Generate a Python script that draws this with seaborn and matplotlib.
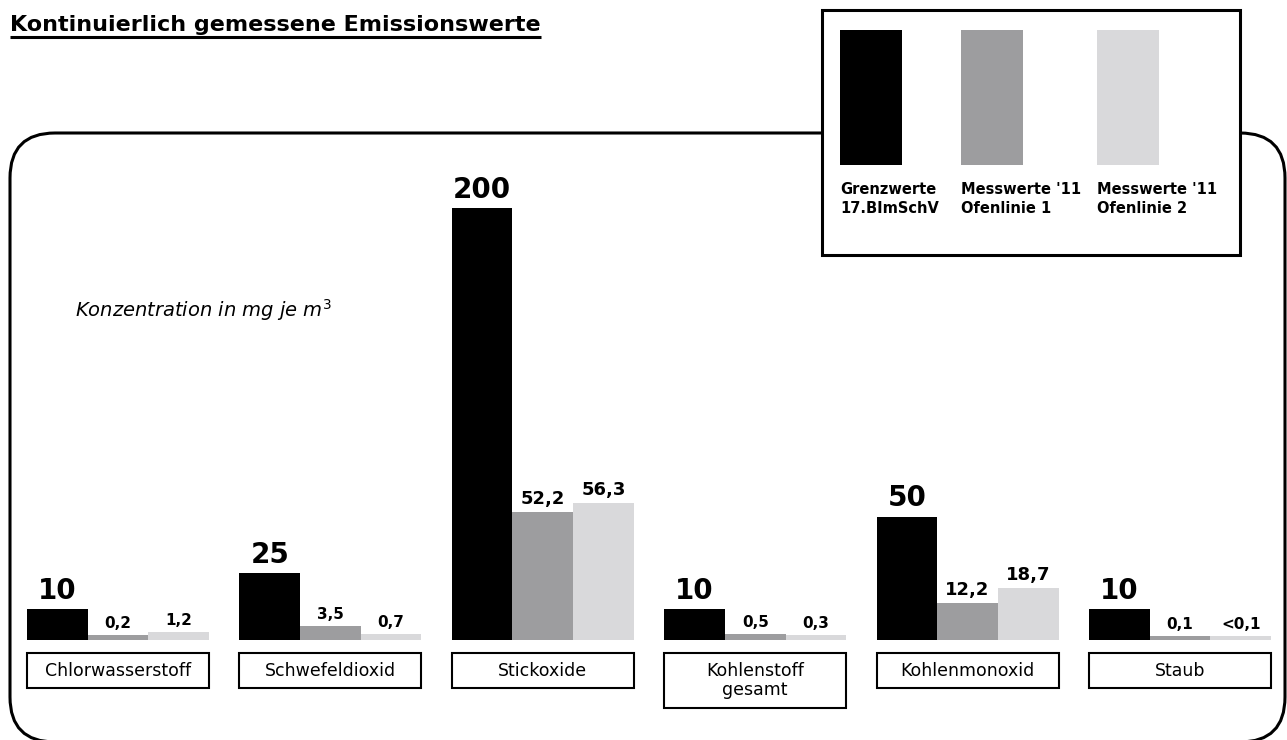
import numpy as np
import pandas as pd
import matplotlib
matplotlib.use("Agg")
import matplotlib.pyplot as plt
import seaborn as sns
from matplotlib.patches import Rectangle, FancyBboxPatch
from matplotlib.transforms import blended_transform_factory

# Data
categories = ["Chlorwasserstoff", "Schwefeldioxid", "Stickoxide",
              "Kohlenstoff\ngesamt", "Kohlenmonoxid", "Staub"]
series = ["Grenzwerte\n17.BImSchV", "Messwerte '11\nOfenlinie 1", "Messwerte '11\nOfenlinie 2"]
grenzwerte = [10, 25, 200, 10, 50, 10]
ofenlinie_1 = [0.2, 3.5, 52.2, 0.5, 12.2, 0.1]
ofenlinie_2 = [1.2, 0.7, 56.3, 0.3, 18.7, 0.1]
labels_grenz = ["10", "25", "200", "10", "50", "10"]
labels_1 = ["0,2", "3,5", "52,2", "0,5", "12,2", "0,1"]
labels_2 = ["1,2", "0,7", "56,3", "0,3", "18,7", "<0,1"]
colors = ["#000000", "#9d9d9f", "#d9d9db"]

df = pd.DataFrame({
    "Kategorie": categories * 3,
    "Serie": np.repeat(series, len(categories)),
    "Wert": grenzwerte + ofenlinie_1 + ofenlinie_2,
})

sns.set_style("white")
plt.rcParams["font.family"] = ["DejaVu Sans"]
plt.rcParams["mathtext.fontset"] = "dejavusans"
plt.rcParams["text.color"] = "black"

# compressed bar scale (small values still visible)
grid = np.linspace(0, 400, 40001)


def forward(v):
    v = np.clip(np.asarray(v, dtype=float), 0, None)
    return v ** 0.92 + 1.2 * np.tanh(v / 0.05)


def inverse(y):
    return np.interp(y, forward(grid), grid)


W, H = 1287, 740
fig = plt.figure(figsize=(W / 100, H / 100), dpi=100)

# overlay in pixel coordinates (y measured from the top)
oax = fig.add_axes([0, 0, 1, 1])
oax.set_xlim(0, W)
oax.set_ylim(0, H)
oax.axis("off")


def py(y):
    return H - y


frame = FancyBboxPatch((10, py(742)), 1275, 609,
                       boxstyle="round,pad=0,rounding_size=45",
                       fc="none", ec="black", lw=2.2, zorder=1)
oax.add_patch(frame)

title = oax.text(10, py(31), "Kontinuierlich gemessene Emissionswerte",
                 fontsize=16, fontweight="bold", va="baseline")

oax.text(75, py(310), "Konzentration in mg je m$^3$", fontsize=14,
         style="italic", va="center")

# legend
oax.add_patch(Rectangle((822, py(255)), 418, 245, fc="white", ec="black", lw=2.2, zorder=3))
for x0, c, s in zip([840, 961, 1097], colors, series):
    oax.add_patch(Rectangle((x0, py(165)), 62, 135, fc=c, ec="none", zorder=4))
    oax.text(x0, py(182), s, fontsize=10.5, fontweight="bold", va="top",
             linespacing=1.35, zorder=5)

# bars
base_px, top_px = 640, 170
ax = fig.add_axes([11.8 / W, (H - base_px) / H, (1286.2 - 11.8) / W, (base_px - top_px) / H])
ax.set_yscale("function", functions=(forward, inverse))

group_w = 182 / 212.4
sns.barplot(data=df, x="Kategorie", y="Wert", hue="Serie", palette=colors,
            width=group_w, gap=0, saturation=1, linewidth=0,
            errorbar=None, legend=False, ax=ax)

ymax = inverse(forward(200) * (base_px - top_px) / (base_px - 208))
ax.set_ylim(0, float(ymax))
ax.set_xlim(-0.5, len(categories) - 0.5)
ax.axis("off")

conts = ax.containers
ax.bar_label(conts[0], labels=labels_grenz, padding=3, fontsize=20, fontweight="bold")
for cont, labs, vals in [(conts[1], labels_1, ofenlinie_1), (conts[2], labels_2, ofenlinie_2)]:
    texts = ax.bar_label(cont, labels=labs, padding=3, fontweight="bold")
    for t, v in zip(texts, vals):
        t.set_fontsize(13 if v > 10 else 11)

# category boxes
blend = blended_transform_factory(ax.transData, fig.transFigure)
for i, cat in enumerate(categories):
    bottom = 708 if "\n" in cat else 688
    top = 653
    ax.add_patch(Rectangle((i - group_w / 2, (H - bottom) / H), group_w, (bottom - top) / H,
                           transform=blend, fill=False, ec="black", lw=1.5, clip_on=False))
    ax.text(i, (H - (top + bottom) / 2) / H, cat, transform=blend, ha="center",
            va="center", fontsize=12.5, linespacing=1.1)

# underline for title
fig.canvas.draw()
bb = title.get_window_extent().transformed(oax.transData.inverted())
oax.plot([bb.x0, bb.x1], [py(37), py(37)], color="black", lw=2.2, solid_capstyle="butt")

fig.savefig("out.png", dpi=100)
